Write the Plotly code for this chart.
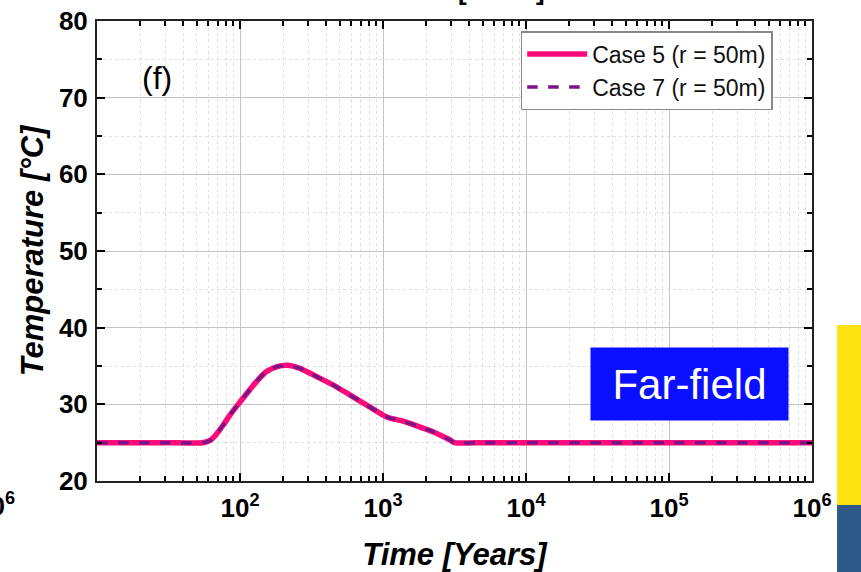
import plotly.graph_objects as go

# ---- data ----
time_years = [10, 30, 55, 62, 69, 77, 85, 100, 117, 135, 154, 180, 213, 263, 345,
              450, 590, 769, 1000, 1120, 1320, 1720, 2250, 2945, 3160, 5000,
              1e4, 1e5, 1e6]
temp_case5 = [25, 25, 25, 25.3, 26.2, 27.4, 28.6, 30.3, 31.9, 33.3, 34.3, 34.9,
              35.1, 34.7, 33.6, 32.5, 31.2, 29.9, 28.6, 28.2, 27.9, 27.2, 26.4,
              25.35, 25, 25, 25, 25, 25]
temp_case7 = list(temp_case5)

x_major = [100, 1000, 10000, 100000, 1000000]
x_major_text = ["10<sup>2</sup>", "10<sup>3</sup>", "10<sup>4</sup>",
                "10<sup>5</sup>", "10<sup>6</sup>"]
x_minor = [m * 10 ** e for e in range(1, 6) for m in range(2, 10)]
y_ticks = [20, 30, 40, 50, 60, 70, 80]

FONT = "Arial, Liberation Sans, sans-serif"

fig = go.Figure()
fig.add_trace(go.Scatter(x=time_years, y=temp_case5, mode="lines",
                         name="Case 5 (r = 50m)",
                         line=dict(color="#ff0a7a", width=5.5, shape="spline", smoothing=0.55)))
fig.add_trace(go.Scatter(x=time_years, y=temp_case7, mode="lines",
                         name="Case 7 (r = 50m)",
                         line=dict(color="#7a1388", width=3.5, dash="dash", shape="spline", smoothing=0.55)))

fig.update_xaxes(type="log", range=[1, 6], tickvals=x_major, ticktext=x_major_text,
                 ticks="inside", ticklen=8, tickwidth=2, tickcolor="black",
                 showline=True, linecolor="#222", linewidth=2, mirror="ticks",
                 showgrid=True, gridcolor="#c4c4c4", gridwidth=1.2,
                 tickfont=dict(family=FONT, size=26, color="black", weight="bold"),
                 ticklabelstandoff=3,
                 minor=dict(tickvals=x_minor, ticks="inside", ticklen=5, tickcolor="black",
                            showgrid=True, gridcolor="#e0e0e0", griddash="dot", gridwidth=1),
                 title=dict(text="<b><i>Time [Years]</i></b>", standoff=22,
                            font=dict(family=FONT, size=31, color="black")),
                 zeroline=False, automargin=False)
fig.update_yaxes(range=[20, 80], tickvals=y_ticks,
                 ticks="inside", ticklen=8, tickwidth=2, tickcolor="black",
                 showline=True, linecolor="#222", linewidth=2, mirror="ticks",
                 showgrid=True, gridcolor="#c4c4c4", gridwidth=1.2,
                 tickfont=dict(family=FONT, size=26, color="black", weight="bold"),
                 ticklabelstandoff=2,
                 minor=dict(dtick=5, ticks="inside", ticklen=5, tickcolor="black",
                            showgrid=True, gridcolor="#e0e0e0", griddash="dot", gridwidth=1),
                 title=dict(text="<b><i>Temperature [°C]</i></b>", standoff=6,
                            font=dict(family=FONT, size=31, color="black")),
                 zeroline=False, automargin=False)

fig.update_layout(
    width=861, height=572,
    margin=dict(l=97, r=49, t=21, b=91),
    paper_bgcolor="white", plot_bgcolor="white",
    font=dict(family=FONT, color="black"),
    legend=dict(x=0.945, y=0.978, xanchor="right", yanchor="top",
                bgcolor="white", bordercolor="#888", borderwidth=1.5,
                itemwidth=60,
                font=dict(family=FONT, size=23, color="#111")),
    shapes=[
        dict(type="rect", xref="paper", yref="paper", x0=1.035, x1=1.12, y0=-0.052, y1=0.339,
             fillcolor="#fde311", line=dict(width=0), layer="above"),
        dict(type="rect", xref="paper", yref="paper", x0=1.035, x1=1.12, y0=-0.25, y1=-0.052,
             fillcolor="#2e5a8a", line=dict(width=0), layer="above"),
    ],
    annotations=[
        dict(text="(f)", xref="paper", yref="paper", x=0.084, y=0.876,
             xanchor="center", yanchor="middle", showarrow=False,
             font=dict(family=FONT, size=32, color="black")),
        dict(text="Far-field", xref="paper", yref="paper", x=0.829, y=0.211,
             xanchor="center", yanchor="middle", showarrow=False,
             bgcolor="#0a10ff", width=191, height=66, borderpad=3,
             font=dict(family=FONT, size=42, color="white")),
        dict(text="<b>10<sup>6</sup></b>", xref="paper", yref="paper", x=-0.112, y=-0.052,
             xanchor="right", yanchor="middle", showarrow=False,
             font=dict(family=FONT, size=26, color="black")),
        dict(text="<b>[Years]</b>", xref="paper", yref="paper", x=0.566, y=1.028,
             xanchor="center", yanchor="bottom", showarrow=False,
             font=dict(family=FONT, size=26, color="black")),
    ],
)

fig.write_html("out.html", config={"displayModeBar": False},
               post_script="document.body.style.margin='0';document.body.style.overflow='hidden';")
